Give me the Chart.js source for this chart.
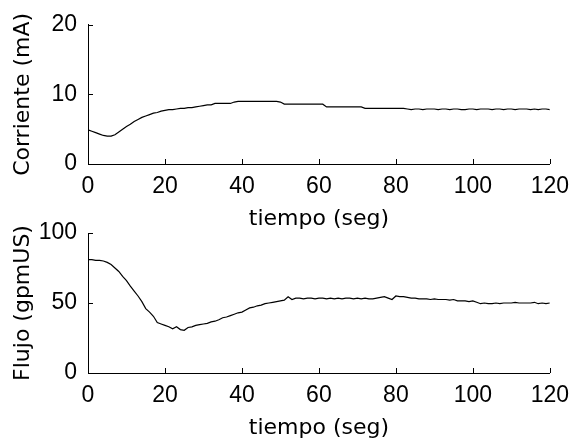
<!DOCTYPE html>
<html>
<head>
<meta charset="utf-8">
<script src="https://cdn.jsdelivr.net/npm/chart.js@4/dist/chart.umd.min.js"></script>
<style>
  body { margin: 0; background: #fff; }
  #wrap { position: relative; width: 578px; height: 441px; overflow: hidden; }
  canvas { position: absolute; left: 0; }
  #chartTop { top: 0; }
  #chartBottom { top: 200px; }
</style>
</head>
<body>
<div id="wrap">
  <canvas id="chartTop" width="578" height="240"></canvas>
  <canvas id="chartBottom" width="578" height="241"></canvas>
</div>
<script>
// tiempo (seg), one sample per second
const tiempo = [
  0, 1, 2, 3, 4, 5, 6, 7, 8, 9,
  10, 11, 12, 13, 14, 15, 16, 17, 18, 19,
  20, 21, 22, 23, 24, 25, 26, 27, 28, 29,
  30, 31, 32, 33, 34, 35, 36, 37, 38, 39,
  40, 41, 42, 43, 44, 45, 46, 47, 48, 49,
  50, 51, 52, 53, 54, 55, 56, 57, 58, 59,
  60, 61, 62, 63, 64, 65, 66, 67, 68, 69,
  70, 71, 72, 73, 74, 75, 76, 77, 78, 79,
  80, 81, 82, 83, 84, 85, 86, 87, 88, 89,
  90, 91, 92, 93, 94, 95, 96, 97, 98, 99,
  100, 101, 102, 103, 104, 105, 106, 107, 108, 109,
  110, 111, 112, 113, 114, 115, 116, 117, 118, 119,
  120
];

// Corriente (mA)
const corriente = [
  4.9, 4.7, 4.5, 4.3, 4.1, 4.0, 4.0, 4.2, 4.6, 5.0,
  5.4, 5.7, 6.1, 6.4, 6.7, 6.9, 7.1, 7.3, 7.4, 7.6,
  7.7, 7.8, 7.8, 7.9, 8.0, 8.0, 8.1, 8.1, 8.2, 8.3,
  8.4, 8.5, 8.5, 8.7, 8.7, 8.7, 8.7, 8.7, 8.9, 9.0,
  9.0, 9.0, 9.0, 9.0, 9.0, 9.0, 9.0, 9.0, 9.0, 9.0,
  8.9, 8.6, 8.6, 8.6, 8.6, 8.6, 8.6, 8.6, 8.6, 8.6,
  8.6, 8.6, 8.2, 8.2, 8.2, 8.2, 8.2, 8.2, 8.2, 8.2,
  8.2, 8.2, 8.0, 8.0, 8.0, 8.0, 8.0, 8.0, 8.0, 8.0,
  8.0, 8.0, 8.0, 7.9, 7.8, 7.9, 7.9, 7.8, 7.9, 7.9,
  7.9, 7.8, 7.9, 7.9, 7.8, 7.9, 7.9, 7.8, 7.8, 7.9,
  7.9, 7.8, 7.9, 7.9, 7.9, 7.8, 7.9, 7.9, 7.8, 7.9,
  7.9, 7.8, 7.9, 7.9, 7.9, 7.8, 7.9, 7.8, 7.9, 7.9,
  7.8
];

// Flujo (gpmUS)
const flujo = [
  81, 81, 80.5, 80.5, 80, 79, 77.5, 75, 72.5, 69,
  66, 62, 58.5, 55, 51, 46, 43.5, 40.5, 36, 35,
  34, 33, 31.5, 33, 31, 30.5, 32.5, 33, 34, 34.5,
  35, 35.5, 36.5, 37, 38, 39.5, 40, 41, 42, 43,
  43.5, 45, 46.5, 47, 48, 48.5, 49.5, 50, 50.5, 51,
  51.5, 52, 54.5, 52.5, 53.5, 53.5, 53, 53.5, 53.5, 53,
  53.5, 53.5, 53, 53.5, 53, 53.5, 53, 53.5, 53.5, 53,
  53.5, 53, 53.5, 53, 53, 53.5, 54, 54.5, 53.5, 52.5,
  55, 54.5, 54.5, 54, 53.5, 53.5, 53, 53, 53, 52.5,
  53, 52.5, 52.5, 52.5, 52, 52.5, 51.5, 51.5, 51.5, 51,
  51.5, 50.5, 49.5, 50, 49.5, 49.5, 50, 49.5, 50, 50,
  50, 50.5, 50, 50, 50, 50, 50.5, 49.5, 50, 49.5,
  50
];

const xTicks = [0, 20, 40, 60, 80, 100, 120];
const yTicksTop = [0, 10, 20];
const yTicksBottom = [0, 50, 100];

const tickFont = { family: "'Liberation Sans', Arial, sans-serif", size: 23 };
const titleFont = { family: "'DejaVu Sans', sans-serif", size: 22 };

// small ticks pointing into the plot, like the original
const innerTicks = {
  id: 'innerTicks',
  afterDraw(chart) {
    const ctx = chart.ctx;
    const xs = chart.scales.x, ys = chart.scales.y;
    ctx.save();
    ctx.strokeStyle = '#000';
    ctx.lineWidth = 1;
    ctx.beginPath();
    xs.ticks.forEach(t => {
      const px = Math.round(xs.getPixelForValue(t.value)) + 0.5;
      ctx.moveTo(px, ys.bottom);
      ctx.lineTo(px, ys.bottom - 5);
    });
    ys.ticks.forEach(t => {
      const py = Math.round(ys.getPixelForValue(t.value)) + 0.5;
      ctx.moveTo(xs.left, py);
      ctx.lineTo(xs.left + 5, py);
    });
    ctx.stroke();
    ctx.restore();
  }
};

function makeChart(id, values, yMax, yTicks, yTitle, padTop, xHeight, xTitlePad) {
  return new Chart(document.getElementById(id), {
    type: 'line',
    data: {
      labels: tiempo,
      datasets: [{
        data: values,
        borderColor: '#000',
        borderWidth: 1.2,
        pointRadius: 0,
        tension: 0,
        fill: false
      }]
    },
    options: {
      responsive: false,
      animation: false,
      events: [],
      layout: { padding: { top: padTop, right: 24, left: 0, bottom: 0 } },
      plugins: { legend: { display: false }, tooltip: { enabled: false } },
      scales: {
        x: {
          type: 'linear',
          min: 0, max: 120,
          afterBuildTicks: s => { s.ticks = xTicks.map(v => ({ value: v })); },
          afterFit: s => { s.height = xHeight; },
          grid: { display: false, drawTicks: false },
          border: { display: true, color: '#000', width: 1 },
          ticks: { color: '#000', font: tickFont, padding: 9, maxRotation: 0 },
          title: { display: true, text: 'tiempo (seg)', color: '#000', font: titleFont,
                   padding: { top: 0, bottom: xTitlePad } }
        },
        y: {
          min: 0, max: yMax,
          afterBuildTicks: s => { s.ticks = yTicks.map(v => ({ value: v })); },
          afterFit: s => { s.width = 88; },
          grid: { display: false, drawTicks: false },
          border: { display: true, color: '#000', width: 1 },
          ticks: { color: '#000', font: tickFont, padding: 11 },
          title: { display: true, text: yTitle, color: '#000', font: titleFont,
                   padding: { top: 10, bottom: 0 } }
        }
      }
    },
    plugins: [innerTicks]
  });
}

makeChart('chartTop', corriente, 20, yTicksTop, 'Corriente (mA)', 24, 76, 8);
makeChart('chartBottom', flujo, 100, yTicksBottom, 'Flujo (gpmUS)', 33, 68, 0);
</script>
</body>
</html>
